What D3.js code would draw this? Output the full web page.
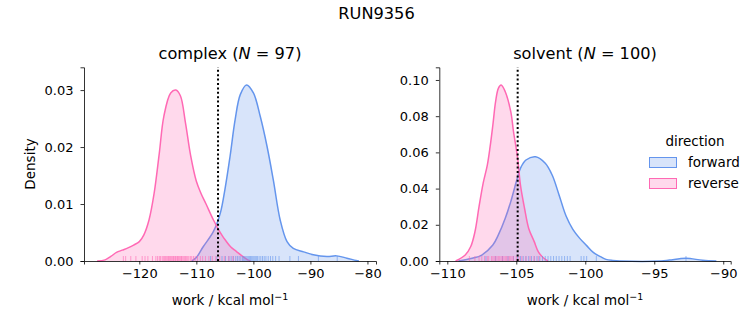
<!DOCTYPE html>
<html>
<head>
<meta charset="utf-8">
<script src="https://cdn.jsdelivr.net/npm/d3@7"></script>
<style>
  body { margin: 0; background: white; }
  text { font-family: "DejaVu Sans", sans-serif; fill: black; }
</style>
</head>
<body>
<div id="viz-container"></div>
<script>
// data
// density curves: work values (kcal/mol) and kde heights
let complexForwardWork = [-110.8, -110, -108.8, -107, -105.8, -105.0, -104.1, -103.2, -102.3, -101.2, -100.0, -98.8, -97.6, -96.5, -95.3, -94.1, -93.0, -91.2, -89.5, -87.1, -85.4, -83.6, -82, -81.5];
let complexForwardDensity = [0, 0.0006, 0.0025, 0.0052, 0.0084, 0.0125, 0.0183, 0.0248, 0.0292, 0.0309, 0.0295, 0.0254, 0.0201, 0.0142, 0.0072, 0.0034, 0.0022, 0.0016, 0.0011, 0.0008, 0.0009, 0.0005, 0.0001, 0];

let complexReverseWork = [-127.4, -126, -125, -124, -123, -122, -121, -120, -119.2, -118.3, -117.4, -116.5, -115.7, -114.5, -113.6, -112.8, -111.9, -111.0, -110.0, -109.2, -108.3, -107.0, -105.8, -104.8, -104.0, -103, -102, -101, -100.5];
let complexReverseDensity = [0, 0.0002, 0.0008, 0.0015, 0.0019, 0.0023, 0.0028, 0.0034, 0.0046, 0.0072, 0.0119, 0.0189, 0.0254, 0.0295, 0.0300, 0.0290, 0.0242, 0.0185, 0.0140, 0.0119, 0.0100, 0.0072, 0.0050, 0.0035, 0.0025, 0.0017, 0.0009, 0.0002, 0];

let solventForwardWork = [-109.2, -108.2, -107.5, -106.7, -106.3, -105.8, -105.4, -105.0, -104.7, -104.3, -103.6, -102.9, -102.4, -101.9, -101.4, -100.9, -100.4, -99.9, -99.4, -98.9, -98.5, -98.0, -97.5, -94.5, -93.9, -92.7, -91.5, -90.5];
let solventForwardDensity = [0, 0.0015, 0.0033, 0.0088, 0.0144, 0.0236, 0.0328, 0.0438, 0.0512, 0.0558, 0.0576, 0.0540, 0.0475, 0.0365, 0.0250, 0.0175, 0.0125, 0.0085, 0.0046, 0.0024, 0.0009, 0.0003, 0, 0, 0.0005, 0.0015, 0.0004, 0];

let solventReverseWork = [-109.4, -108.7, -108.3, -108.0, -107.7, -107.4, -107.1, -106.9, -106.7, -106.5, -106.3, -106.1, -105.8, -105.4, -105.2, -104.9, -104.7, -104.4, -104.1, -103.7, -103.4, -103.0, -102.7];
let solventReverseDensity = [0, 0.0033, 0.008, 0.016, 0.030, 0.043, 0.053, 0.063, 0.075, 0.088, 0.0954, 0.0972, 0.0935, 0.0825, 0.0714, 0.0567, 0.042, 0.029, 0.018, 0.0107, 0.0051, 0.0015, 0];

// rug ticks (individual work values)
let complexForwardRug = [-107.5, -106.4, -105.5, -104.9, -104.3, -103.9, -103.5, -103.1, -102.8, -102.5, -102.2, -101.9, -101.7, -101.5, -101.3, -101.1, -100.9, -100.7, -100.5, -100.3, -100.1, -99.9, -99.7, -99.5, -99.3, -99.0, -98.7, -98.4, -98.1, -97.8, -97.4, -97.0, -96.6, -96.1, -95.5, -93.6, -92.1, -88.6, -85.3];
let complexReverseRug = [-122.8, -122.4, -121.5, -120.6, -119.5, -119.0, -118.5, -117.7, -117.1, -116.8, -116.5, -116.3, -116.0, -115.8, -115.6, -115.4, -115.2, -115.0, -114.9, -114.7, -114.5, -114.4, -114.2, -114.0, -113.9, -113.7, -113.6, -113.4, -113.3, -113.1, -113.0, -112.8, -112.6, -112.5, -112.3, -112.1, -111.9, -111.7, -111.5, -111.3, -111.0, -110.8, -110.5, -110.2, -109.8, -109.3, -108.9, -108.4, -107.8, -107.2, -106.6, -105.9, -105.1, -104.3, -103.6];
let solventForwardRug = [-107.2, -106.5, -106.0, -105.6, -105.2, -104.9, -104.7, -104.5, -104.3, -104.1, -103.9, -103.7, -103.5, -103.3, -103.1, -102.9, -102.7, -102.5, -102.3, -102.1, -101.9, -101.7, -101.5, -101.3, -101.1, -100.3, -100.1, -99.9, -99.2, -92.7];
let solventReverseRug = [-108.4, -108.0, -107.7, -107.5, -107.3, -107.1, -107.0, -106.8, -106.7, -106.6, -106.5, -106.4, -106.3, -106.2, -106.1, -106.0, -105.9, -105.8, -105.7, -105.6, -105.5, -105.4, -105.3, -105.2, -105.0, -104.8, -104.6, -104.3, -104.0, -103.7, -103.4];

// dotted vertical line (free energy estimate) per phase
let phaseNames = ["complex", "solvent"];
let phaseCounts = [97, 100];
let markerWork = [-106.2, -104.9];

let directions = ["forward", "reverse"];
let directionColors = ["#6495ed", "#ff69b4"];

let complexXTicks = [-120, -110, -100, -90, -80];
let complexYTicks = [0, 0.01, 0.02, 0.03];
let solventXTicks = [-110, -105, -100, -95, -90];
let solventYTicks = [0, 0.02, 0.04, 0.06, 0.08, 0.10];

// create svg
let viz = d3.select("#viz-container")
  .append("svg")
    .attr("width", 753)
    .attr("height", 325);

viz.append("text")
  .attr("x", 376.5)
  .attr("y", 19)
  .attr("text-anchor", "middle")
  .style("font-size", "16.2px")
  .text("RUN9356");

// panel layouts
let panels = [
  {
    x: d3.scaleLinear().domain([-129.7, -78.5]).range([84, 376]),
    y: d3.scaleLinear().domain([0, 0.034]).range([261, 67.3]),
    xTicks: complexXTicks, yTicks: complexYTicks,
    curves: [[complexForwardWork, complexForwardDensity], [complexReverseWork, complexReverseDensity]],
    rugs: [complexForwardRug, complexReverseRug],
    yLabel: true
  },
  {
    x: d3.scaleLinear().domain([-110.58, -89.46]).range([439.3, 730.7]),
    y: d3.scaleLinear().domain([0, 0.107]).range([261, 67.3]),
    xTicks: solventXTicks, yTicks: solventYTicks,
    curves: [[solventForwardWork, solventForwardDensity], [solventReverseWork, solventReverseDensity]],
    rugs: [solventForwardRug, solventReverseRug],
    yLabel: false
  }
];

panels.forEach(drawPanel);

function drawPanel(p, i) {
  let g = viz.append("g");
  let x = p.x, y = p.y;

  // filled kde curves
  p.curves.forEach(function(c, k) {
    let pts = c[0].map(function(w, j) { return [w, c[1][j]]; });
    let area = d3.area()
      .x(function(d) { return x(d[0]); })
      .y0(y(0))
      .y1(function(d) { return Math.min(y(0), y(d[1])); })
      .curve(d3.curveCatmullRom.alpha(0.5));
    let line = d3.line()
      .x(function(d) { return x(d[0]); })
      .y(function(d) { return y(d[1]); })
      .curve(d3.curveCatmullRom.alpha(0.5));
    g.append("path").attr("d", area(pts))
      .attr("fill", directionColors[k]).attr("fill-opacity", 0.25);
    g.append("path").attr("d", line(pts))
      .attr("fill", "none").attr("stroke", directionColors[k]).attr("stroke-width", 1.5);
  });

  // rug ticks
  p.rugs.forEach(function(r, k) {
    g.selectAll(".rug" + k).data(r).enter().append("line")
      .attr("class", "rug" + k)
      .attr("x1", function(d) { return x(d); })
      .attr("x2", function(d) { return x(d); })
      .attr("y1", y(0))
      .attr("y2", y(0) - 5)
      .attr("stroke", directionColors[k])
      .attr("stroke-opacity", 0.6)
      .attr("stroke-width", 1);
  });

  // dotted line
  g.append("line")
    .attr("x1", x(markerWork[i])).attr("x2", x(markerWork[i]))
    .attr("y1", y.range()[0]).attr("y2", y.range()[1])
    .attr("stroke", "black").attr("stroke-width", 2)
    .attr("stroke-dasharray", "2,2.4");

  // axes
  let xAxis = g.append("g")
    .attr("transform", "translate(0," + y.range()[0] + ")")
    .call(d3.axisBottom(x).tickValues(p.xTicks).tickFormat(d3.format("d")).tickSizeOuter(0).tickSize(3.5).tickPadding(4));
  let yAxis = g.append("g")
    .attr("transform", "translate(" + x.range()[0] + ",0)")
    .call(d3.axisLeft(y).tickValues(p.yTicks).tickFormat(d3.format(".2f")).tickSizeOuter(0).tickSize(3.5).tickPadding(7));
  [xAxis, yAxis].forEach(function(a) {
    a.selectAll("path").attr("stroke", "black").attr("stroke-width", 0.8);
    a.selectAll("line").attr("stroke", "black").attr("stroke-width", 0.8);
    a.selectAll("text").style("font-size", "13px").style("font-family", "DejaVu Sans");
  });

  let cx = (x.range()[0] + x.range()[1]) / 2;

  // title with italic N
  let title = g.append("text")
    .attr("x", cx).attr("y", 59)
    .attr("text-anchor", "middle")
    .style("font-size", "16.2px");
  title.append("tspan").text(phaseNames[i] + " (");
  title.append("tspan").style("font-style", "italic").text("N");
  title.append("tspan").text(" = " + phaseCounts[i] + ")");

  // x label
  let xl = g.append("text")
    .attr("x", cx).attr("y", 305)
    .attr("text-anchor", "middle")
    .style("font-size", "13.5px");
  xl.append("tspan").text("work / kcal mol");
  xl.append("tspan").attr("dy", -5).style("font-size", "9.5px").text("−1");

  if (p.yLabel) {
    g.append("text")
      .attr("transform", "translate(35,164) rotate(-90)")
      .attr("text-anchor", "middle")
      .style("font-size", "13.5px")
      .text("Density");
  }
}

// legend
let legend = viz.append("g");
legend.append("text")
  .attr("x", 695).attr("y", 146)
  .attr("text-anchor", "middle")
  .style("font-size", "13.5px")
  .text("direction");

legend.selectAll(".patch").data(directions).enter().append("rect")
  .attr("class", "patch")
  .attr("x", 649.5)
  .attr("y", function(d, i) { return 157.5 + i * 21; })
  .attr("width", 27)
  .attr("height", 10)
  .attr("fill", function(d, i) { return directionColors[i]; })
  .attr("fill-opacity", 0.25)
  .attr("stroke", function(d, i) { return directionColors[i]; })
  .attr("stroke-width", 1);

legend.selectAll(".ltext").data(directions).enter().append("text")
  .attr("class", "ltext")
  .attr("x", 688)
  .attr("y", function(d, i) { return 167 + i * 21; })
  .style("font-size", "13.5px")
  .text(function(d) { return d; });
</script>
</body>
</html>
